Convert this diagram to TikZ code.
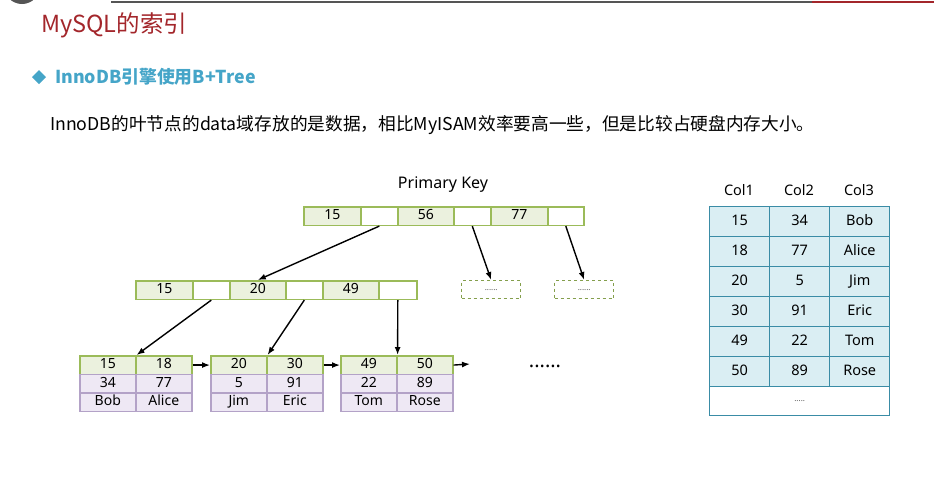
\documentclass[tikz,border=0pt]{standalone}
\usepackage{fontspec}
\setmainfont{Noto Sans}
\newfontfamily\cjk{Noto Sans CJK SC}
\usetikzlibrary{arrows.meta}
\definecolor{titlered}{HTML}{A3262B}
\definecolor{subblue}{HTML}{45A5C8}
\definecolor{gfill}{HTML}{EBF1DE}
\definecolor{gline}{HTML}{9BBB59}
\definecolor{pfill}{HTML}{EEE8F4}
\definecolor{pline}{HTML}{B3A2C7}
\definecolor{tfill}{HTML}{DAEEF3}
\definecolor{tline}{HTML}{3A8CA6}
\definecolor{topgray}{HTML}{555555}
\tikzset{
  cellbase/.style={draw, line width=1.6pt, inner sep=0pt, anchor=north west, text height=10pt, text depth=3pt, font=\fontsize{14}{14}\selectfont},
  gcell/.style={cellbase, draw=gline, fill=gfill, minimum height=18.5pt},
  wcell/.style={cellbase, draw=gline, fill=white, minimum height=18.5pt},
  pcell/.style={cellbase, draw=pline, fill=pfill, minimum height=18.5pt},
  tcell/.style={draw=tline, line width=1.4pt, fill=tfill, inner sep=0pt, anchor=north west, minimum width=60pt, minimum height=30pt, text height=10.5pt, text depth=3pt, font=\fontsize{14.5}{14.5}\selectfont},
  dbox/.style={draw=gline!85!black, dashed, line width=1.4pt, inner sep=0pt, anchor=north west, minimum width=59pt, minimum height=18pt, font=\fontsize{8}{8}\selectfont\color{black!70}},
  arr/.style={-{Latex[length=8pt,width=6pt]}, line width=1.4pt, black},
  hdr/.style={font=\fontsize{14.5}{14.5}\selectfont, inner sep=0pt},
}
\begin{document}
\begin{tikzpicture}[x=1pt,y=-1pt]
\useasboundingbox (0,0) rectangle (934,483);
% top decorations
\begin{scope}
\clip (0,0) rectangle (934,483);
\fill[topgray] (22,-14) circle (18);
\end{scope}
\draw[topgray, line width=2pt] (111,1.5) -- (812,1.5);
\draw[titlered, line width=2pt] (812,1.5) -- (934,1.5);
% title
\node[anchor=west, inner sep=0pt, text=titlered, font=\cjk\fontsize{23.5}{23.5}\selectfont] (title) at (41,25) {MySQL的索引};
\fill[subblue] (39,70) -- (46,77) -- (39,84) -- (32,77) -- cycle;
\node[anchor=west, inner sep=0pt, text=subblue, font=\cjk\bfseries\fontsize{17.8}{17.8}\selectfont] (sub) at (55,77) {InnoDB引擎使用B+Tree};
\node[anchor=west, inner sep=0pt, font=\cjk\fontsize{17.7}{17.7}\selectfont] (body) at (50,125) {InnoDB的叶节点的data域存放的是数据，相比MyISAM效率要高一些，但是比较占硬盘内存大小。};
% primary key
\node[font=\fontsize{16}{16}\selectfont, inner sep=0pt] (pk) at (443,185) {Primary Key};
% root row
\node[gcell, minimum width=57pt] (r1) at (303,206) {15};
\node[wcell, minimum width=37pt] (r2) at (360,206) {};
\node[gcell, minimum width=56pt] (r3) at (397,206) {56};
\node[wcell, minimum width=37pt] (r4) at (453,206) {};
\node[gcell, minimum width=57pt] (r5) at (490,206) {77};
\node[wcell, minimum width=36pt] (r6) at (547,206) {};
% dashed boxes
\node[dbox] (d1) at (461,280) {......};
\node[dbox] (d2) at (554,280) {......};
% middle row
\node[gcell, minimum width=57pt] (m1) at (135,280) {15};
\node[wcell, minimum width=37pt] (m2) at (192,280) {};
\node[gcell, minimum width=56pt] (m3) at (229,280) {20};
\node[wcell, minimum width=37pt] (m4) at (285,280) {};
\node[gcell, minimum width=56pt] (m5) at (322,280) {49};
\node[wcell, minimum width=38pt] (m6) at (378,280) {};
% leaves
\foreach \n/\x/\ka/\kb/\va/\vb/\na/\nb in {l1/79/15/18/34/77/Bob/Alice, l2/210/20/30/5/91/Jim/Eric, l3/340/49/50/22/89/Tom/Rose}{
  \node[gcell, minimum width=56pt] (\n a) at (\x,355) {\ka};
  \node[gcell, minimum width=56pt] (\n b) at (\x+56,355) {\kb};
  \node[pcell, minimum width=56pt] (\n c) at (\x,373.5) {\va};
  \node[pcell, minimum width=56pt] (\n d) at (\x+56,373.5) {\vb};
  \node[pcell, minimum width=56pt] (\n e) at (\x,392) {\na};
  \node[pcell, minimum width=56pt] (\n f) at (\x+56,392) {\nb};
}
\coordinate (lend) at (470,364);
\node[font=\bfseries\fontsize{20}{20}\selectfont, inner sep=0pt] (more) at (545,366) {......};
% arrows
\draw[arr] (r2.south) -- (m3.north);
\draw[arr] (r4.south) -- (d1.north);
\draw[arr] (r6.south) -- (d2.north);
\draw[arr] (m2.south) -- (l1a.north east);
\draw[arr] (m4.south) -- (l2a.north east);
\draw[arr] (m6.south) -- (l3a.north east);
\draw[arr] (l1b.east) -- (l2a.west);
\draw[arr] (l2b.east) -- (l3a.west);
\draw[arr] (l3b.east) -- (lend);
% table
\node[hdr] (h1) at (739,190) {Col1};
\node[hdr] (h2) at (799,190) {Col2};
\node[hdr] (h3) at (859,190) {Col3};
\foreach \i/\a/\b/\c in {0/15/34/Bob, 1/18/77/Alice, 2/20/5/Jim, 3/30/91/Eric, 4/49/22/Tom, 5/50/89/Rose}{
  \node[tcell] (t\i a) at (709,206+\i*30) {\a};
  \node[tcell] (t\i b) at (769,206+\i*30) {\b};
  \node[tcell] (t\i c) at (829,206+\i*30) {\c};
}
\node[draw=tline, line width=1.4pt, fill=white, inner sep=0pt, anchor=north west, minimum width=180pt, minimum height=29pt, font=\fontsize{8}{8}\selectfont\color{black!70}] (tlast) at (709,386) {.....};
\end{tikzpicture}
\end{document}
